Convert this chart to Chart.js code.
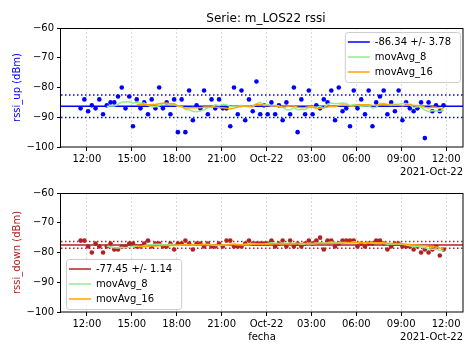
<!DOCTYPE html>
<html><head><meta charset="utf-8">
<script src="https://cdn.jsdelivr.net/npm/chart.js@4.4.0/dist/chart.umd.min.js"></script>
<style>
html,body{margin:0;padding:0;background:#fff;}
#wrap{position:relative;width:474px;height:355px;overflow:hidden;}
canvas{position:absolute;left:0;display:block;}
</style></head><body>
<div id="wrap">
<canvas id="c1" width="474" height="177" style="top:0"></canvas>
<canvas id="c2" width="474" height="178" style="top:177px"></canvas>
</div>
<script>
// ---------- data ----------
const TITLE = 'Serie: m_LOS22 rssi';
const DATE_LABEL = '2021-Oct-22';
const X_TITLE = 'fecha';
const Y_LABEL_UP = 'rssi_up (dBm)';
const Y_LABEL_DOWN = 'rssi_down (dBm)';
// sample times: hours since 2021-10-21 00:00, one sample every 15 min
const START_HOUR = 11.58;
const SAMPLE_STEP_HOURS = 0.25;
const X_MIN = 10.27, X_MAX = 37.13;
const TICK_HOURS = [12, 15, 18, 21, 24, 27, 30, 33, 36];
const Y_TICKS = [-100, -90, -80, -70, -60];
const MA_WINDOWS = [8, 16];

const rssiUp = [
  -87,-84,-88,-86,-87,-84,-89,-86,-85,-85,
  -83,-80,-87,-83,-93,-84,-87,-85,-89,-84,
  -87,-80,-87,-85,-89,-84,-95,-84,-95,-81,
  -91,-86,-87,-81,-89,-84,-87,-84,-87,-87,
  -93,-80,-89,-81,-91,-84,-88,-78,-89,-86,
  -89,-85,-89,-86,-91,-85,-89,-80,-95,-84,
  -89,-81,-89,-86,-87,-84,-85,-81,-91,-80,
  -88,-87,-93,-81,-87,-84,-89,-81,-93,-85,
  -83,-81,-89,-85,-88,-81,-91,-85,-87,-88,
  -87,-85,-97,-85,-88,-86,-88,-86
];
const rssiDown = [
  -76,-76,-78,-80,-77,-78,-80,-78,-77,-79,
  -79,-78,-78,-77,-77,-78,-78,-77,-76,-78,
  -77,-77,-78,-78,-77,-79,-77,-77,-76,-77,
  -79,-77,-77,-78,-77,-78,-78,-77,-78,-76,
  -76,-78,-78,-78,-77,-76,-77,-77,-77,-77,
  -77,-76,-78,-77,-76,-78,-76,-78,-77,-78,
  -77,-76,-77,-76,-75,-79,-76,-76,-78,-77,
  -76,-76,-76,-76,-78,-77,-78,-77,-77,-76,
  -76,-77,-79,-78,-77,-77,-78,-78,-78,-79,
  -78,-80,-79,-80,-79,-78,-81,-79
];
const UP_MEAN = -86.34, UP_STD = 3.78;
const DOWN_MEAN = -77.45, DOWN_STD = 1.14;

const UP_COLOR = '#0000ff';
const DOWN_COLOR = '#b22222';
const MA_COLORS = ['#90ee90', '#ffa500'];

// ---------- helpers ----------
const FONT = '"DejaVu Sans", sans-serif';
Chart.defaults.font.family = FONT;
Chart.defaults.font.size = 10;
Chart.defaults.color = '#000';
Chart.defaults.animation = false;

const sampleTimes = rssiUp.map((_, i) => START_HOUR + i * SAMPLE_STEP_HOURS);

function rollingMean(arr, w) {
  return arr.map((v, i) => {
    if (i < w - 1) return null;
    let s = 0;
    for (let k = i - w + 1; k <= i; k++) s += arr[k];
    return s / w;
  });
}
function fmtHour(v) {
  if (v === 24) return 'Oct-22';
  const h = Math.round(v) % 24;
  return String(h).padStart(2, '0') + ':00';
}

const framePlugin = {
  id: 'frameAndText',
  afterInit(chart) {
    const lg = chart.legend;
    if (lg) {
      lg._layers = () => [{ z: 10, draw: (area) => { drawLegendFrame(chart); lg.draw(area); } }];
    }
  },
  afterLayout(chart) {
    const lg = chart.legend, ca = chart.chartArea, o = chart.options.plugins.frameAndText;
    if (!lg || !lg.legendItems) return;
    const ctx = chart.ctx;
    ctx.save(); ctx.font = '10px ' + FONT;
    const tw = Math.max(...lg.legendItems.map(i => ctx.measureText(i.text).width));
    ctx.restore();
    const pad = 5, itemH = 10, pitch = itemH + pad, n = lg.legendItems.length;
    const fw = 3 + 22 + 5 + tw + 9;
    const fh = 5 + (n - 1) * pitch + itemH + 5;
    const fx = o.corner === 'tr' ? ca.right - 3 - fw : ca.left + 5;
    const fy = o.corner === 'tr' ? ca.top + 4 : ca.bottom - 3 - fh;
    lg.left = fx + 3 - pad; lg.top = fy;
    lg.right = lg.left + lg.width; lg.bottom = lg.top + lg.height;
    chart.$frame = { fx, fy, fw, fh };
  },
  afterDatasetsDraw(chart) {
    const ca = chart.chartArea, ctx = chart.ctx, o = chart.options.plugins.frameAndText;
    ctx.save();
    ctx.strokeStyle = '#000'; ctx.lineWidth = 1;
    ctx.strokeRect(Math.round(ca.left) - 0.5, Math.round(ca.top) + 0.5,
      Math.round(ca.right - ca.left) + 0.5, Math.round(ca.bottom - ca.top) - 0.5);
    ctx.fillStyle = '#000';
    ctx.font = '10px ' + FONT;
    ctx.textAlign = 'right'; ctx.textBaseline = 'middle';
    ctx.fillText(DATE_LABEL, ca.right, ca.bottom + 25);
    if (o.title) {
      ctx.font = '12px ' + FONT;
      ctx.textAlign = 'center'; ctx.textBaseline = 'alphabetic';
      ctx.fillText(o.title, (ca.left + ca.right) / 2 + 4, 21.5);
    }
    ctx.restore();
  }
};
function drawLegendFrame(chart) {
  const f = chart.$frame; if (!f) return;
  const ctx = chart.ctx;
  ctx.save();
  ctx.beginPath();
  ctx.roundRect(f.fx + 0.5, f.fy + 0.5, f.fw, f.fh, 3);
  ctx.fillStyle = 'rgba(255,255,255,0.8)';
  ctx.fill();
  ctx.strokeStyle = '#cccccc'; ctx.lineWidth = 1;
  ctx.stroke();
  ctx.restore();
}

function makeChart(id, cfg) {
  const values = cfg.values;
  const pts = values.map((v, i) => ({ x: sampleTimes[i], y: v }));
  const ma = (w) => rollingMean(values, w)
    .map((v, i) => v === null ? null : { x: sampleTimes[i], y: v })
    .filter(p => p !== null);
  const hline = (y) => [{ x: X_MIN, y }, { x: X_MAX, y }];
  const line = { showLine: true, pointRadius: 0, pointHoverRadius: 0, borderWidth: 1.5, fill: false };
  const datasets = [
    Object.assign({ label: cfg.mean.toFixed(2) + ' +/- ' + cfg.std.toFixed(2), data: hline(cfg.mean),
      borderColor: cfg.color, backgroundColor: cfg.color, order: 3 }, line),
    Object.assign({ label: 'movAvg_' + MA_WINDOWS[0], data: ma(MA_WINDOWS[0]),
      borderColor: MA_COLORS[0], backgroundColor: MA_COLORS[0], order: 2 }, line),
    Object.assign({ label: 'movAvg_' + MA_WINDOWS[1], data: ma(MA_WINDOWS[1]),
      borderColor: MA_COLORS[1], backgroundColor: MA_COLORS[1], order: 1 }, line),
    Object.assign({ label: 'upper', data: hline(cfg.mean + cfg.std), borderDash: [1.5, 2.5],
      borderColor: cfg.color, order: 4 }, line),
    Object.assign({ label: 'lower', data: hline(cfg.mean - cfg.std), borderDash: [1.5, 2.5],
      borderColor: cfg.color, order: 5 }, line),
    { label: 'data', data: pts, showLine: false, pointRadius: 2.3, pointHoverRadius: 2.3,
      pointBorderWidth: 0, backgroundColor: cfg.color, borderColor: cfg.color, order: 6 }
  ];
  return new Chart(document.getElementById(id), {
    type: 'scatter',
    data: { datasets },
    options: {
      responsive: false,
      animation: false,
      events: [],
      layout: { padding: { top: cfg.top, right: 11, left: 0, bottom: 0 } },
      plugins: {
        tooltip: { enabled: false },
        title: { display: false },
        legend: {
          display: true, position: 'chartArea', align: 'start',
          labels: {
            usePointStyle: true, pointStyle: 'line', pointStyleWidth: 22, padding: 5,
            color: '#000', font: { size: 10, family: FONT },
            filter: (item) => item.datasetIndex < 3,
            sort: (a, b) => a.datasetIndex - b.datasetIndex
          }
        },
        frameAndText: { corner: cfg.corner, title: cfg.title }
      },
      scales: {
        x: {
          type: 'linear', position: 'bottom', min: X_MIN, max: X_MAX,
          afterBuildTicks: (s) => { s.ticks = TICK_HOURS.map(v => ({ value: v })); },
          afterFit: (s) => { s.height = cfg.xHeight; },
          ticks: { autoSkip: false, maxRotation: 0, padding: 2, color: '#000',
            font: { size: 10 }, callback: (v) => fmtHour(v) },
          grid: { display: true, drawOnChartArea: true, drawTicks: true, tickLength: 4,
            color: '#d3d3d3', lineWidth: 0.8, tickColor: '#000', tickWidth: 1, tickBorderDash: [] },
          border: { display: false, dash: [2, 2] },
          title: cfg.xTitle ? { display: true, text: cfg.xTitle, color: '#000', font: { size: 10 },
            padding: { top: 0, bottom: 11.7 } } : { display: false }
        },
        y: {
          type: 'linear', min: -100, max: -60,
          afterBuildTicks: (s) => { s.ticks = Y_TICKS.map(v => ({ value: v })); },
          afterFit: (s) => { s.width = 61; },
          ticks: { padding: 3, color: '#000', font: { size: 10 },
            callback: (v) => String(v).replace('-', '\u2212') },
          grid: { display: true, drawOnChartArea: false, drawTicks: true, tickLength: 4,
            tickColor: '#000', tickWidth: 1 },
          border: { display: false },
          title: { display: true, text: cfg.yLabel, color: cfg.color, font: { size: 10 },
            padding: { top: 11, bottom: 0 } }
        }
      }
    },
    plugins: [framePlugin]
  });
}

makeChart('c1', { values: rssiUp, mean: UP_MEAN, std: UP_STD, color: UP_COLOR, yLabel: Y_LABEL_UP,
  corner: 'tr', title: TITLE, top: 28, xHeight: 30, xTitle: null });
makeChart('c2', { values: rssiDown, mean: DOWN_MEAN, std: DOWN_STD, color: DOWN_COLOR, yLabel: Y_LABEL_DOWN,
  corner: 'bl', title: null, top: 16, xHeight: 43, xTitle: X_TITLE });
</script>
</body></html>
